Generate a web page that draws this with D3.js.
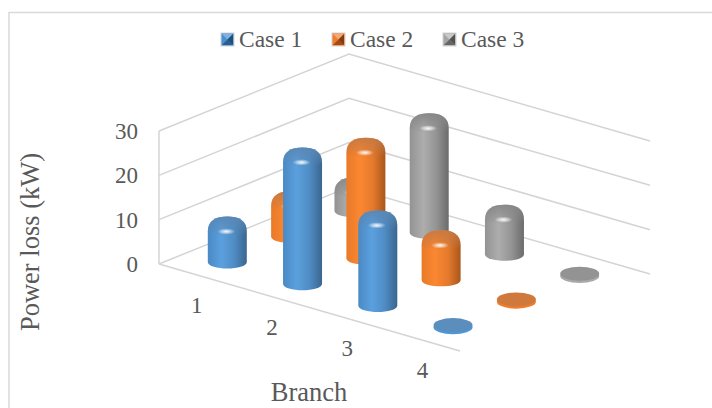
<!DOCTYPE html>
<html>
<head>
<meta charset="utf-8">
<script src="https://cdn.jsdelivr.net/npm/d3@7"></script>
<style>
html,body{margin:0;padding:0;background:#fff;overflow:hidden}
svg{display:block}
text{font-family:"Liberation Serif",serif;fill:#595959}
</style>
</head>
<body>
<svg id="chart" width="712" height="408"></svg>
<script>
// Power loss per branch for the three cases
const branches = ["1", "2", "3", "4"];
const cases = ["Case 1", "Case 2", "Case 3"];
const case1 = [8.8, 29.3, 20.0, 0.5];
const case2 = [8.7, 25.7, 9.7, 0.5];
const case3 = [6.0, 25.4, 9.7, 0.5];
const valueTicks = [0, 10, 20, 30];
const seriesValues = [case1, case2, case3];

// Oblique projection of the floor: origin plus one vector per floor axis
const origin = [159, 264];
const branchVec = [301, 87];
const caseVec = [190, -77];
const barRx = 19.5, barRy = 6.5;
const barShiftX = -1;

const svg = d3.select("#chart");
const uScale = d3.scaleBand().domain(branches).range([0, 1]);
const vScale = d3.scaleBand().domain(cases).range([0, 1]);
const yScale = d3.scaleLinear().domain([0, 30]).range([origin[1], 131]);
const rise = v => origin[1] - yScale(v);

const project = (u, v, value = 0) => [
  origin[0] + branchVec[0] * u + caseVec[0] * v,
  origin[1] + branchVec[1] * u + caseVec[1] * v - rise(value)
];

const palette = {
  "Case 1": {stops: ["#4a8ac5", "#5ba0de", "#4f8cc4", "#3a668f"], cap: "#5a87b4", disc: "#5b8dbd", rim: "#4f96d8", swatch: "#4a8fcf", dark: "#1f4e79", light: "#7fb2e0"},
  "Case 2": {stops: ["#e87a28", "#fb8731", "#e47a2c", "#a9561c"], cap: "#c47a45", disc: "#cf7a3c", rim: "#ee7d2c", swatch: "#ed7d31", dark: "#843c0c", light: "#f4a877"},
  "Case 3": {stops: ["#939393", "#adadad", "#949494", "#6b6b6b"], cap: "#878787", disc: "#939393", rim: "#a9a9a9", swatch: "#a5a5a5", dark: "#525252", light: "#c9c9c9"}
};

// Shading shared by all the columns of a case
const defs = svg.append("defs");
const slug = c => c.replace(" ", "");
cases.forEach(c => {
  const p = palette[c];
  const body = defs.append("linearGradient").attr("id", "body" + slug(c));
  [0, 0.35, 0.68, 1].forEach((o, i) =>
    body.append("stop").attr("offset", o).attr("stop-color", p.stops[i]));
  const cap = defs.append("linearGradient").attr("id", "cap" + slug(c))
    .attr("x1", 0).attr("x2", 0).attr("y1", 0).attr("y2", 1);
  cap.append("stop").attr("offset", 0).attr("stop-color", p.cap).attr("stop-opacity", 0.95);
  cap.append("stop").attr("offset", 0.75).attr("stop-color", p.cap).attr("stop-opacity", 0.25);
  cap.append("stop").attr("offset", 1).attr("stop-color", p.cap).attr("stop-opacity", 0);
});
const glow = defs.append("radialGradient").attr("id", "glow");
glow.append("stop").attr("offset", 0).attr("stop-color", "#fff").attr("stop-opacity", 0.95);
glow.append("stop").attr("offset", 0.4).attr("stop-color", "#fff").attr("stop-opacity", 0.6);
glow.append("stop").attr("offset", 1).attr("stop-color", "#fff").attr("stop-opacity", 0);

// Chart frame: only the top and left edges fall inside the view
svg.append("path").attr("d", "M9,408V12.5H712")
  .attr("fill", "none").attr("stroke", "#d9d9d9").attr("stroke-width", 1.5);

// Wall and floor grid
const grid = svg.append("g").attr("fill", "none").attr("stroke", "#d4d4d4").attr("stroke-width", 1.5);
const gridLine = d3.line();
valueTicks.forEach(t => {
  grid.append("path").attr("d", gridLine([project(0, 0, t), project(0, 1, t), project(1, 1, t)]));
});
grid.append("path").attr("d", gridLine([project(0, 0, 0), project(0, 0, 30)]));
grid.append("path").attr("d", gridLine([project(0, 0, 0), project(1, 0, 0)]));

// Value axis
const yAxis = d3.axisLeft(yScale).tickValues(valueTicks).tickSize(0).tickPadding(21);
const yG = svg.append("g").attr("transform", `translate(${origin[0]},0)`).call(yAxis);
yG.select(".domain").remove();
yG.selectAll("text").style("font-family", '"Liberation Serif",serif').style("font-size", "23px").attr("fill", "#595959");

// Branch labels along the front floor edge
svg.append("g").selectAll("text").data(branches).join("text")
  .attr("text-anchor", "middle").attr("font-size", 23)
  .attr("x", d => project(uScale(d) + uScale.bandwidth() / 2, 0)[0])
  .attr("y", d => project(uScale(d) + uScale.bandwidth() / 2, 0)[1] + 38)
  .text(d => d);

// Axis titles
svg.append("text").attr("x", 309).attr("y", 401).attr("text-anchor", "middle").attr("font-size", 26.5).text("Branch");
svg.append("text").attr("transform", "translate(39,242) rotate(-90)").attr("text-anchor", "middle").attr("font-size", 26.5).text("Power loss (kW)");

// Flatten the series into one list of columns, painted back to front
const bars = cases.flatMap((c, si) => branches.map((b, bi) => {
  const u = uScale(b) + uScale.bandwidth() / 2;
  const v = vScale(c) + vScale.bandwidth() / 2;
  const base = project(u, v);
  return {c, b, value: seriesValues[si][bi], cx: base[0] + barShiftX, by: base[1]};
})).sort((a, b) => a.by - b.by);

function columnPath(cx, yTop, by) {
  const l = cx - barRx, r = cx + barRx;
  const d = d3.path();
  d.moveTo(l, yTop + 15);
  d.bezierCurveTo(l, yTop + 4, cx - barRx * 0.6, yTop, cx, yTop);
  d.bezierCurveTo(cx + barRx * 0.6, yTop, r, yTop + 4, r, yTop + 15);
  d.lineTo(r, by);
  d.bezierCurveTo(r, by + barRy * 1.33, l, by + barRy * 1.33, l, by);
  d.closePath();
  return d.toString();
}
function domePath(cx, yTop) {
  const l = cx - barRx, r = cx + barRx;
  const d = d3.path();
  d.moveTo(l, yTop + 15);
  d.bezierCurveTo(l, yTop + 4, cx - barRx * 0.6, yTop, cx, yTop);
  d.bezierCurveTo(cx + barRx * 0.6, yTop, r, yTop + 4, r, yTop + 15);
  d.bezierCurveTo(r, yTop + 21, l, yTop + 21, l, yTop + 15);
  d.closePath();
  return d.toString();
}

const barG = svg.append("g");
bars.forEach(bar => {
  const p = palette[bar.c];
  const g = barG.append("g");
  const yCentre = bar.by - rise(bar.value);
  if (bar.value < 1) {
    // Near-zero values collapse to a thin disc
    g.append("ellipse").attr("cx", bar.cx).attr("cy", bar.by).attr("rx", barRx).attr("ry", barRy + 0.5).attr("fill", p.rim);
    g.append("ellipse").attr("cx", bar.cx).attr("cy", yCentre).attr("rx", barRx).attr("ry", barRy + 0.5).attr("fill", p.disc);
    return;
  }
  const yTop = yCentre - barRy;
  g.append("path").attr("d", columnPath(bar.cx, yTop, bar.by)).attr("fill", `url(#body${slug(bar.c)})`);
  g.append("path").attr("d", domePath(bar.cx, yTop)).attr("fill", `url(#cap${slug(bar.c)})`);
  g.append("ellipse").attr("cx", bar.cx - 1).attr("cy", yTop + 15).attr("rx", 9).attr("ry", 3.2).attr("fill", "url(#glow)");
});

// Legend with bevelled swatches
const legendX = {"Case 1": 221, "Case 2": 332, "Case 3": 443};
cases.forEach(c => {
  const p = palette[c], x = legendX[c], y = 33, s = 13;
  const g = svg.append("g").attr("transform", `translate(${x},${y})`);
  g.append("rect").attr("width", s).attr("height", s).attr("fill", p.swatch).attr("stroke", "#d4d4d4").attr("stroke-width", 1);
  g.append("path").attr("d", `M1,1H${s - 1}L${s / 2},${s / 2}Z`).attr("fill", p.light);
  g.append("path").attr("d", `M${s - 1},1V${s - 1}L${s / 2},${s / 2}Z`).attr("fill", p.dark);
  g.append("path").attr("d", `M1,${s - 1}H${s - 1}L${s / 2},${s / 2}Z`).attr("fill", p.dark).attr("opacity", 0.75);
  svg.append("text").attr("x", x + 18).attr("y", 46.5).attr("font-size", 23.5).text(c);
});
</script>
</body>
</html>
